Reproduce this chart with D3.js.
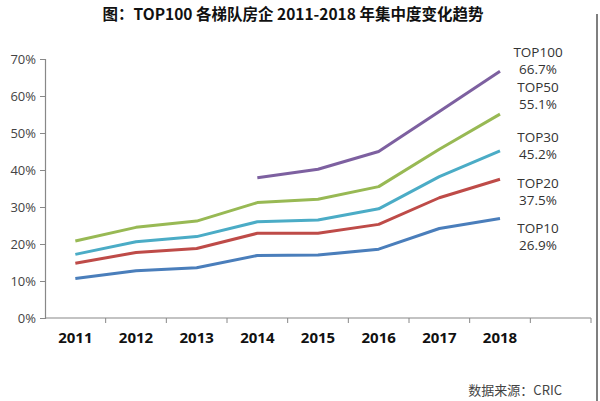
<!DOCTYPE html>
<html>
<head>
<meta charset="utf-8">
<script src="https://cdn.jsdelivr.net/npm/d3@7"></script>
<style>
  body { margin: 0; background: #fff; }
  svg { display: block; }
</style>
</head>
<body>
<div id="chart"></div>
<script>
// Years on the x axis (the last band is empty in the original)
const years = ["2011", "2012", "2013", "2014", "2015", "2016", "2017", "2018", ""];
const yTicks = [0, 0.1, 0.2, 0.3, 0.4, 0.5, 0.6, 0.7];

const seriesNames = ["TOP10", "TOP20", "TOP30", "TOP50", "TOP100"];
const seriesColors = ["#4a7ebb", "#be4b48", "#4bacc6", "#98b954", "#7d60a0"];

// concentration (%) per year, null = no data
const top10 = [10.7, 12.8, 13.6, 16.9, 17.0, 18.6, 24.2, 26.9];
const top20 = [14.8, 17.7, 18.8, 22.9, 22.9, 25.3, 32.5, 37.5];
const top30 = [17.2, 20.6, 22.0, 26.0, 26.5, 29.5, 38.2, 45.2];
const top50 = [20.8, 24.5, 26.2, 31.2, 32.1, 35.5, 45.6, 55.1];
const top100 = [null, null, null, 37.9, 40.2, 45.0, 55.8, 66.7];

const labelYs = [228, 183, 137, 87, 52]; // label anchor positions, top line

const width = 600, height = 401;
const margin = {left: 45, right: 9, top: 59, bottom: 83};

const svg = d3.select("#chart").append("svg")
    .attr("width", width)
    .attr("height", height);

// Title
svg.append("text")
    .attr("x", 293)
    .attr("y", 20)
    .attr("text-anchor", "middle")
    .style("font-family", "'Noto Sans CJK SC', 'Noto Sans', sans-serif")
    .style("font-weight", "bold")
    .style("font-size", "15.5px")
    .style("fill", "#111")
    .text("图：TOP100 各梯队房企 2011-2018 年集中度变化趋势");

// Scales
const x = d3.scaleBand()
    .domain(years)
    .range([margin.left, width - margin.right]);

const y = d3.scaleLinear()
    .domain([0, 0.7])
    .range([height - margin.bottom, margin.top]);

// Y axis
const yAxis = d3.axisLeft(y)
    .tickValues(yTicks)
    .tickSize(5)
    .tickFormat(d => Math.round(d * 100) + "%");

const yG = svg.append("g")
    .attr("transform", `translate(${margin.left},0)`)
    .call(yAxis);
yG.select(".domain").attr("stroke", "#888").attr("stroke-width", 1.2);
yG.selectAll(".tick line").attr("stroke", "#888");
yG.selectAll(".tick text")
    .attr("x", -9)
    .style("font-family", "'Open Sans', 'DejaVu Sans', sans-serif")
    .style("font-size", "13px")
    .style("fill", "#444");

// X axis with ticks on band boundaries
const xAxisG = svg.append("g")
    .attr("transform", `translate(0,${height - margin.bottom})`);

xAxisG.append("line")
    .attr("x1", margin.left)
    .attr("x2", width - margin.right)
    .attr("stroke", "#888")
    .attr("stroke-width", 1.2);

const bounds = years.map(d => x(d)).concat([x(years[years.length - 1]) + x.bandwidth()]);
xAxisG.selectAll(".xtick")
    .data(bounds.slice(1))
    .join("line")
    .attr("class", "xtick")
    .attr("x1", d => d)
    .attr("x2", d => d)
    .attr("y1", 0)
    .attr("y2", 5)
    .attr("stroke", "#888");

xAxisG.selectAll(".xlabel")
    .data(years.filter(d => d !== ""))
    .join("text")
    .attr("class", "xlabel")
    .attr("x", d => x(d) + x.bandwidth() / 2)
    .attr("y", 25)
    .attr("text-anchor", "middle")
    .style("font-family", "'Open Sans', 'DejaVu Sans', sans-serif")
    .style("font-weight", "bold")
    .style("font-size", "15px")
    .style("fill", "#111")
    .text(d => d);

// Lines
const allSeries = [top10, top20, top30, top50, top100];
const line = d3.line()
    .defined(d => d.v !== null)
    .x(d => x(d.year) + x.bandwidth() / 2)
    .y(d => y(d.v / 100));

allSeries.forEach((vals, i) => {
    const pts = vals.map((v, j) => ({year: years[j], v: v}));
    svg.append("path")
        .datum(pts)
        .attr("fill", "none")
        .attr("stroke", seriesColors[i])
        .attr("stroke-width", 3)
        .attr("stroke-linejoin", "round")
        .attr("d", line);

    // end labels
    const lab = svg.append("text")
        .attr("x", 538)
        .attr("text-anchor", "middle")
        .style("font-family", "'Open Sans', 'DejaVu Sans', sans-serif")
        .style("font-size", "13.5px")
        .style("fill", "#333");
    lab.append("tspan")
        .attr("x", 538)
        .attr("y", labelYs[i] + 5)
        .text(seriesNames[i]);
    lab.append("tspan")
        .attr("x", 538)
        .attr("y", labelYs[i] + 22)
        .text(vals[vals.length - 1].toFixed(1) + "%");
});

// Source note
svg.append("text")
    .attr("x", 562)
    .attr("y", 395)
    .attr("text-anchor", "end")
    .style("font-family", "'Noto Sans CJK SC', 'Open Sans', sans-serif")
    .style("font-size", "13px")
    .style("fill", "#444")
    .text("数据来源：CRIC");

// right frame edge
svg.append("line")
    .attr("x1", 597).attr("x2", 597)
    .attr("y1", 14).attr("y2", height)
    .attr("stroke", "#555")
    .attr("stroke-width", 1.5);
</script>
</body>
</html>
